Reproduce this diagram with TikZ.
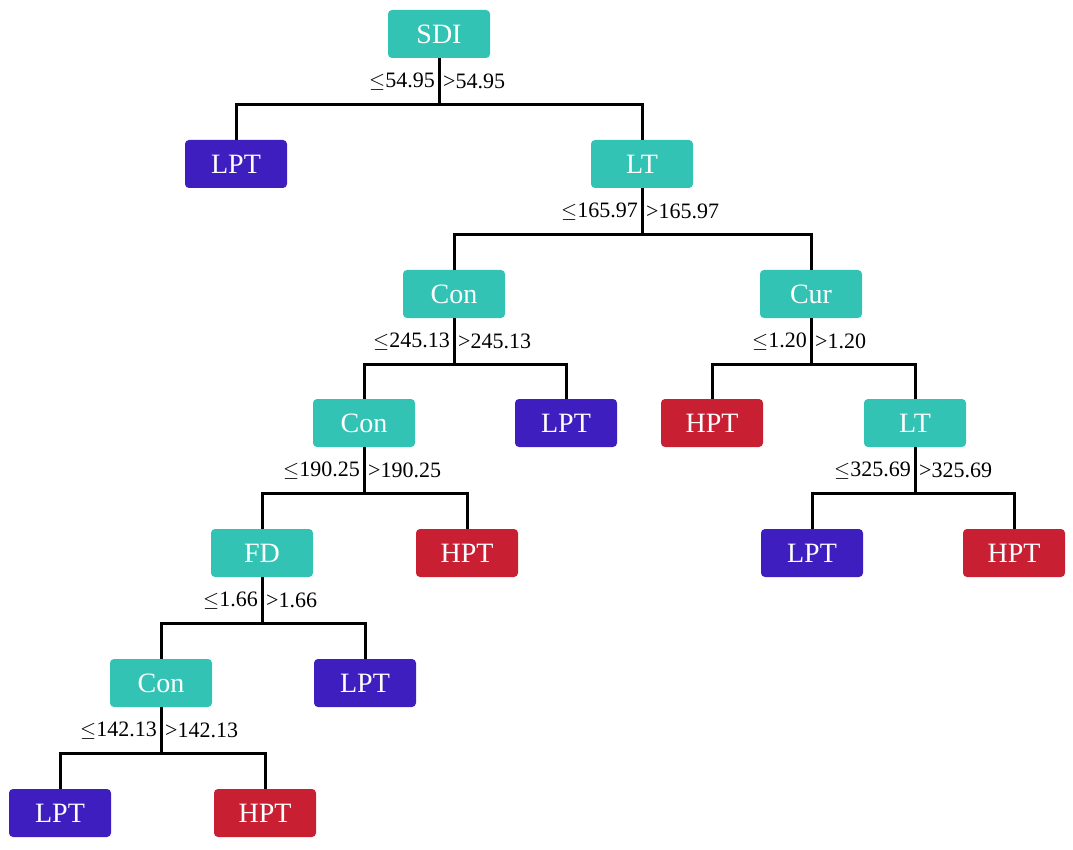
\documentclass[tikz,border=0pt]{standalone}
\usepackage{fontspec}
\setmainfont{Liberation Serif}
\usetikzlibrary{positioning,calc}

\definecolor{splitc}{HTML}{33C3B5}
\definecolor{lowc}{HTML}{3F1EC0}
\definecolor{highc}{HTML}{C91F32}

\tikzset{
  box/.style={rounded corners=4pt, minimum width=102pt, minimum height=48pt, text=white, font=\fontsize{28}{30}\selectfont},
  split/.style={box, fill=splitc},
  lpt/.style={box, fill=lowc},
  hpt/.style={box, fill=highc},
  branch/.style={line width=3pt, black},
  cond/.style={font=\fontsize{22}{24}\selectfont, inner sep=4pt}
}

% parent, left child, right child, left label, right label
\newcommand{\splitnode}[5]{
  \draw [branch] (#1.south) -- ++(0,46) coordinate (#1bar) -| (#2.north);
  \draw [branch] (#1bar) -| (#3.north);
  \node [cond, anchor=east] at ($(#1.south)!0.5!(#1bar)$) {#4};
  \node [cond, anchor=west] at ($(#1.south)!0.5!(#1bar)$) {#5};
}

\begin{document}
\begin{tikzpicture}[x=1pt, y=-1pt]
\useasboundingbox (0,0) rectangle (1073,850);

\node [split] (sdi) at (439,34) {SDI};
\node [lpt] (lptA) at (236,164) {LPT};
\node [split] (ltA) at (642,164) {LT};
\node [split] (conA) at (454,294) {Con};
\node [split] (cur) at (811,294) {Cur};
\node [split] (conB) at (364,423) {Con};
\node [lpt] (lptB) at (566,423) {LPT};
\node [hpt] (hptA) at (712,423) {HPT};
\node [split] (ltB) at (915,423) {LT};
\node [split] (fd) at (262,553) {FD};
\node [hpt] (hptB) at (467,553) {HPT};
\node [lpt] (lptC) at (812,553) {LPT};
\node [hpt] (hptC) at (1014,553) {HPT};
\node [split] (conC) at (161,683) {Con};
\node [lpt] (lptD) at (365,683) {LPT};
\node [lpt] (lptE) at (60,813) {LPT};
\node [hpt] (hptD) at (265,813) {HPT};

\splitnode{sdi}{lptA}{ltA}{$\leq$54.95}{>54.95}
\splitnode{ltA}{conA}{cur}{$\leq$165.97}{>165.97}
\splitnode{conA}{conB}{lptB}{$\leq$245.13}{>245.13}
\splitnode{cur}{hptA}{ltB}{$\leq$1.20}{>1.20}
\splitnode{conB}{fd}{hptB}{$\leq$190.25}{>190.25}
\splitnode{ltB}{lptC}{hptC}{$\leq$325.69}{>325.69}
\splitnode{fd}{conC}{lptD}{$\leq$1.66}{>1.66}
\splitnode{conC}{lptE}{hptD}{$\leq$142.13}{>142.13}
\end{tikzpicture}
\end{document}
